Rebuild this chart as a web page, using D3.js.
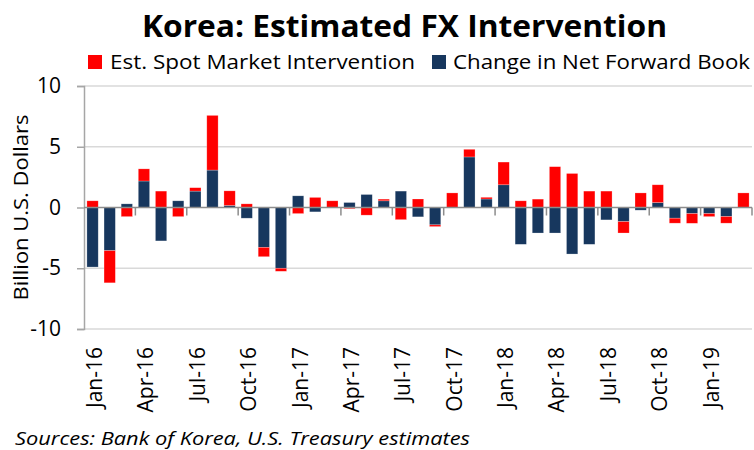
<!DOCTYPE html>
<html>
<head>
<meta charset="utf-8">
<script src="https://cdn.jsdelivr.net/npm/d3@7"></script>
<style>
  body { margin: 0; background: #fff; }
  svg { display: block; font-family: "Open Sans", sans-serif; }
</style>
</head>
<body>
<svg id="chart" width="754" height="450"></svg>
<script>
// monthly values, billion US$
const months = ['Jan-16','Feb-16','Mar-16','Apr-16','May-16','Jun-16','Jul-16','Aug-16','Sep-16','Oct-16','Nov-16','Dec-16',
  'Jan-17','Feb-17','Mar-17','Apr-17','May-17','Jun-17','Jul-17','Aug-17','Sep-17','Oct-17','Nov-17','Dec-17',
  'Jan-18','Feb-18','Mar-18','Apr-18','May-18','Jun-18','Jul-18','Aug-18','Sep-18','Oct-18','Nov-18','Dec-18',
  'Jan-19','Feb-19','Mar-19'];
const spot = [0.55,-2.65,-0.75,1.0,1.35,-0.75,0.28,4.5,1.2,0.3,-0.77,-0.25,
  -0.5,0.83,0.55,-0.1,-0.63,0.14,-1.0,0.7,-0.14,1.2,0.63,0.14,
  1.87,0.55,0.69,3.36,2.8,1.35,1.35,-0.94,1.2,1.46,-0.41,-0.8,
  -0.25,-0.55,1.2];
const fwd = [-4.9,-3.55,0.3,2.18,-2.75,0.55,1.35,3.08,0.17,-0.88,-3.28,-5.0,
  0.96,-0.36,0,0.41,1.07,0.55,1.35,-0.77,-1.43,0,4.16,0.7,
  1.87,-3.03,-2.1,-2.1,-3.83,-3.03,-1.02,-1.16,-0.22,0.41,-0.88,-0.5,
  -0.5,-0.74,0];
const yTicks = [-10, -5, 0, 5, 10];
const tickLabels = months.filter((m, i) => i % 3 === 0);

const svg = d3.select('#chart');
const margin = { left: 84, right: 2, top: 86, bottom: 121 };
const W = 754, H = 450;

const rows = months.map((m, i) => ({ month: m, fwd: fwd[i], spot: spot[i] }));
// forward book sits next to zero, spot stacked outside it
const series = d3.stack().keys(['fwd', 'spot']).offset(d3.stackOffsetDiverging)(rows);
const colors = { fwd: '#17375e', spot: '#ff0000' };

const x = d3.scaleBand().domain(months)
  .range([margin.left, W - margin.right])
  .paddingInner(0.34).paddingOuter(0.17);
const y = d3.scaleLinear().domain([-10, 10]).range([H - margin.bottom, margin.top]);

// gridlines
svg.append('g').selectAll('line').data(yTicks.filter(d => d !== 0)).join('line')
  .attr('x1', margin.left).attr('x2', W - margin.right)
  .attr('y1', d => y(d)).attr('y2', d => y(d))
  .attr('stroke', '#d9d9d9').attr('stroke-width', 1.5);

// y axis (plain hyphen for negatives, as in the source)
const yAxis = svg.append('g').attr('transform', `translate(${margin.left},0)`)
  .call(d3.axisLeft(y).tickValues(yTicks).tickFormat(d => String(d)).tickSize(7).tickPadding(16));
yAxis.select('.domain').attr('stroke', '#a6a6a6').attr('stroke-width', 1.5);
yAxis.selectAll('.tick line').attr('stroke', '#a6a6a6').attr('stroke-width', 1.5);
yAxis.selectAll('.tick text').attr('font-size', 21).attr('fill', '#000')
  .attr('font-family', 'Open Sans');

// bars
svg.append('g').selectAll('g').data(series).join('g')
  .attr('fill', d => colors[d.key])
  .selectAll('rect').data(d => d).join('rect')
  .attr('x', d => x(d.data.month))
  .attr('width', x.bandwidth())
  .attr('y', d => y(Math.max(d[0], d[1])))
  .attr('height', d => Math.abs(y(d[0]) - y(d[1])))
  .attr('stroke', '#ffffff').attr('stroke-opacity', 0.4).attr('stroke-width', 0.6);

// zero line with tick marks every quarter
const step = x.step();
const zero = svg.append('g');
zero.append('line')
  .attr('x1', margin.left).attr('x2', W - margin.right)
  .attr('y1', y(0)).attr('y2', y(0))
  .attr('stroke', '#8c8c8c').attr('stroke-width', 1.5);
zero.selectAll('.qt').data(d3.range(3, months.length + 1, 3)).join('line')
  .attr('class', 'qt')
  .attr('x1', d => margin.left + d * step).attr('x2', d => margin.left + d * step)
  .attr('y1', y(0)).attr('y2', y(0) + 8)
  .attr('stroke', '#8c8c8c').attr('stroke-width', 1.5);

// month labels along the bottom
const xAxis = svg.append('g').attr('transform', `translate(0,${H - margin.bottom + 18})`)
  .call(d3.axisBottom(x).tickValues(tickLabels).tickSize(0));
xAxis.select('.domain').remove();
xAxis.selectAll('text')
  .attr('font-size', 21).attr('fill', '#000').attr('font-family', 'Open Sans')
  .attr('text-anchor', 'end')
  .attr('transform', 'rotate(-90)')
  .attr('x', 0).attr('y', 0).attr('dx', 0).attr('dy', '0.45em');

// y title
svg.append('text')
  .attr('transform', `translate(28,${y(0)}) rotate(-90)`)
  .attr('text-anchor', 'middle')
  .attr('font-size', 20)
  .attr('textLength', 186).attr('lengthAdjust', 'spacingAndGlyphs')
  .text('Billion U.S. Dollars');

// title
svg.append('text')
  .attr('x', 142).attr('y', 37)
  .attr('font-size', 31).attr('font-weight', 'bold')
  .attr('textLength', 525).attr('lengthAdjust', 'spacingAndGlyphs')
  .text('Korea: Estimated FX Intervention');

// legend
const legend = [
  { key: 'spot', label: 'Est. Spot Market Intervention', sx: 88, tx: 110, w: 305 },
  { key: 'fwd', label: 'Change in Net Forward Book', sx: 432, tx: 453, w: 297 }
];
const lg = svg.append('g').selectAll('g').data(legend).join('g');
lg.append('rect').attr('x', d => d.sx).attr('y', 55).attr('width', 14).attr('height', 14)
  .attr('fill', d => colors[d.key]);
lg.append('text').attr('x', d => d.tx).attr('y', 69)
  .attr('font-size', 20)
  .attr('textLength', d => d.w).attr('lengthAdjust', 'spacingAndGlyphs')
  .text(d => d.label);

// source note
svg.append('text')
  .attr('x', 15).attr('y', 445)
  .attr('font-size', 19).attr('font-style', 'italic')
  .attr('textLength', 455).attr('lengthAdjust', 'spacingAndGlyphs')
  .text('Sources: Bank of Korea, U.S. Treasury estimates');
</script>
</body>
</html>
